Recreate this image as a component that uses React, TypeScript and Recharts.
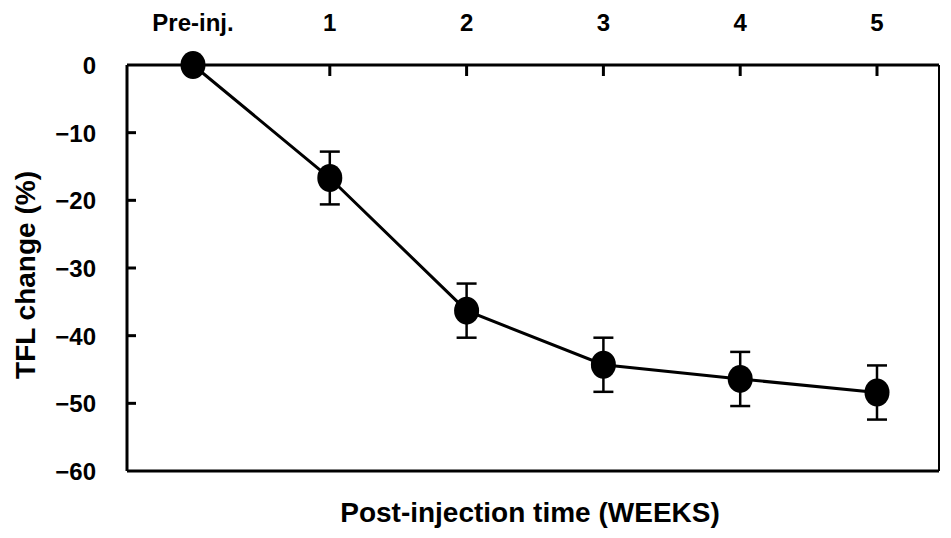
import React from 'react';
import { LineChart, Line, XAxis, YAxis, ErrorBar } from 'recharts';

const categories = ['Pre-inj.', '1', '2', '3', '4', '5'];
const tflChange = [0, -16.7, -36.3, -44.3, -46.4, -48.4];
const tflError = [0, 3.9, 4.0, 4.0, 4.0, 4.0];
const yTicks = [0, -10, -20, -30, -40, -50, -60];

const data = categories.map((c, i) => ({ week: c, value: tflChange[i], err: tflError[i] }));

const FONT = '"Liberation Sans", Arial, sans-serif';

const TopTick = (props: any) => {
  const { x, y, payload } = props;
  return (
    <g>
      <line x1={x} y1={y} x2={x} y2={y + 11} stroke="#000" strokeWidth={3} />
      <text x={x} y={y - 34} textAnchor="middle" fontFamily={FONT} fontWeight="bold" fontSize={24} fill="#000">
        {payload.value}
      </text>
    </g>
  );
};

const LeftTick = (props: any) => {
  const { x, y, payload } = props;
  const v = Number(payload.value);
  const label = v < 0 ? '\u2212' + Math.abs(v) : String(v);
  return (
    <g>
      {v !== 0 && v !== -60 && <line x1={x} y1={y} x2={x + 9} y2={y} stroke="#000" strokeWidth={3} />}
      <text x={x - 31} y={y + 9} textAnchor="end" fontFamily={FONT} fontWeight="bold" fontSize={24} fill="#000">
        {label}
      </text>
    </g>
  );
};

const Dot = (props: any) => {
  const { cx, cy } = props;
  if (cx == null || cy == null) return null;
  return <ellipse cx={cx} cy={cy} rx={12.5} ry={14} fill="#000" stroke="none" />;
};

const YLabel = (props: any) => {
  const vb = props.viewBox || {};
  const cy = vb.y + vb.height / 2 + 7;
  const cx = 35;
  return (
    <text
      x={cx}
      y={cy}
      transform={`rotate(-90 ${cx} ${cy})`}
      textAnchor="middle"
      fontFamily={FONT}
      fontWeight="bold"
      fontSize={28}
      fill="#000"
    >
      TFL change (%)
    </text>
  );
};

const XLabel = (props: any) => {
  const vb = props.viewBox || {};
  const cx = vb.x + vb.width / 2 - 3;
  return (
    <text x={cx} y={522} textAnchor="middle" fontFamily={FONT} fontWeight="bold" fontSize={28} fill="#000">
      Post-injection time (WEEKS)
    </text>
  );
};

export default function App() {
  return (
    <div style={{ position: 'absolute', left: 0, top: 0, background: '#fff' }}>
      <LineChart width={951} height={538} data={data} margin={{ top: 0, right: 6, bottom: 0, left: 0 }}>
        <XAxis
          dataKey="week"
          orientation="top"
          height={65}
          padding={{ left: 66, right: 62 }}
          axisLine={{ stroke: '#000', strokeWidth: 3 }}
          tickLine={false}
          tickSize={0}
          tickMargin={0}
          tick={<TopTick />}
          interval={0}
        />
        <XAxis
          xAxisId="b"
          dataKey="week"
          orientation="bottom"
          height={67}
          padding={{ left: 66, right: 62 }}
          axisLine={{ stroke: '#000', strokeWidth: 3 }}
          tickLine={false}
          tick={false}
          label={<XLabel />}
        />
        <YAxis
          domain={[-60, 0]}
          ticks={yTicks}
          width={127}
          axisLine={{ stroke: '#000', strokeWidth: 3 }}
          tickLine={false}
          tickSize={0}
          tickMargin={0}
          tick={<LeftTick />}
          interval={0}
          label={<YLabel />}
        />
        <YAxis
          yAxisId="r"
          orientation="right"
          domain={[-60, 0]}
          width={6}
          axisLine={{ stroke: '#000', strokeWidth: 2 }}
          tickLine={false}
          tick={false}
        />
        <Line
          type="linear"
          dataKey="value"
          stroke="#000"
          strokeWidth={3}
          dot={<Dot />}
          activeDot={false}
          isAnimationActive={false}
        >
          <ErrorBar dataKey="err" width={10} stroke="#000" strokeWidth={2.5} direction="y" />
        </Line>
      </LineChart>
    </div>
  );
}
